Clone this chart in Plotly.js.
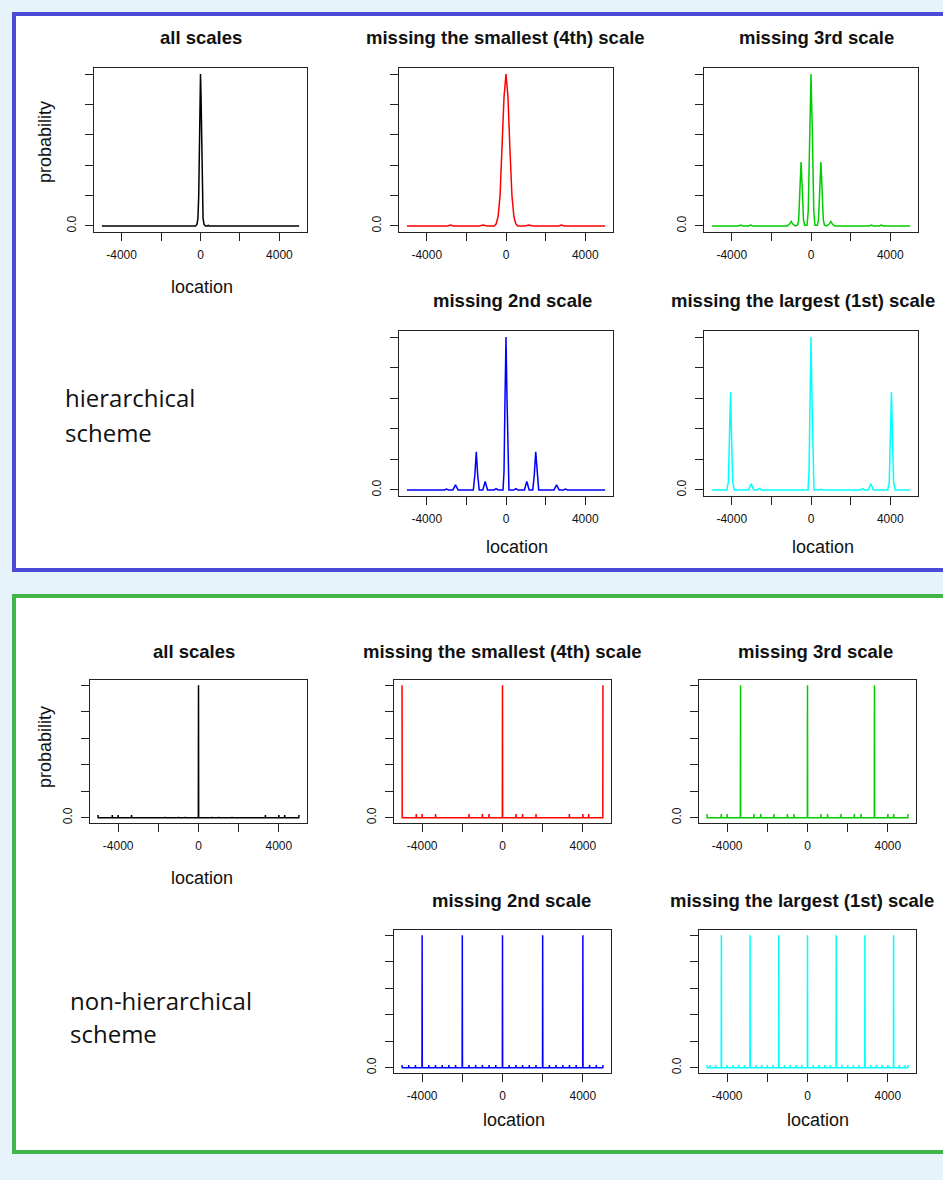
<!DOCTYPE html>
<html>
<head>
<meta charset="utf-8">
<script src="https://cdn.plot.ly/plotly-3.0.1.min.js"></script>
<style>
  html, body { margin: 0; padding: 0; background: #e6f3fa; }
  #chart { width: 943px; height: 1180px; }
</style>
</head>
<body>
<div id="chart"></div>
<script>
// ---------- DATA ----------
// Hierarchical scheme: smooth curves (location, probability normalised to peak = 1)
const hAllX = [-5000, -1000, -450, -400, -350, -250, -180, -130, -90, -50, -25, 0, 25, 50, 90, 130, 180, 250, 350, 400, 450, 1000, 5000];
const hAllY = [0, 0, 0, 0.004, 0, 0, 0.01, 0.05, 0.2, 0.58, 0.87, 1, 0.87, 0.58, 0.2, 0.05, 0.01, 0, 0, 0.004, 0, 0, 0];

const h4X = [-5000, -2950, -2800, -2650, -1350, -1150, -950, -600, -500, -400, -300, -200, -100, 0, 100, 200, 300, 400, 500, 600, 950, 1150, 1350, 2650, 2800, 2950, 5000];
const h4Y = [0, 0, 0.006, 0, 0, 0.006, 0, 0, 0.012, 0.06, 0.2, 0.5, 0.85, 1, 0.85, 0.5, 0.2, 0.06, 0.012, 0, 0, 0.006, 0, 0, 0.006, 0, 0];

const h3X = [-5000, -3650, -3550, -3450, -3150, -3050, -2950, -1200, -1080, -1000, -920, -800, -680, -620, -560, -500, -440, -380, -320, -200, -140, -70, 0,
             70, 140, 200, 320, 380, 440, 500, 560, 620, 680, 800, 920, 1000, 1080, 1200, 2950, 3050, 3150, 3450, 3550, 3650, 5000];
const h3Y = [0, 0, 0.006, 0, 0, 0.006, 0, 0, 0.012, 0.03, 0.012, 0, 0.005, 0.04, 0.24, 0.42, 0.24, 0.04, 0.005, 0.005, 0.1, 0.6, 1,
             0.6, 0.1, 0.005, 0.005, 0.04, 0.24, 0.42, 0.24, 0.04, 0.005, 0, 0.012, 0.03, 0.012, 0, 0, 0.006, 0, 0, 0.006, 0, 0];

const h2X = [-5000, -3100, -3000, -2900, -2680, -2550, -2420, -1650, -1570, -1500, -1430, -1350, -1170, -1050, -930, -600, -500, -400, -150, -100, -50, 0,
             50, 100, 150, 400, 500, 600, 930, 1050, 1170, 1350, 1430, 1500, 1570, 1650, 2420, 2550, 2680, 2900, 3000, 3100, 5000];
const h2Y = [0, 0, 0.005, 0, 0, 0.033, 0, 0, 0.1, 0.25, 0.1, 0, 0, 0.055, 0, 0, 0.008, 0, 0, 0.12, 0.6, 1,
             0.6, 0.12, 0, 0, 0.008, 0, 0, 0.055, 0, 0, 0.1, 0.25, 0.1, 0, 0, 0.033, 0, 0, 0.005, 0, 0];

const h1X = [-5000, -4250, -4170, -4110, -4060, -4010, -3950, -3870, -3150, -3020, -2890, -2700, -2600, -2500, -1150, -1050, -950, -600, -500, -400, -150, -100, -50, 0,
             50, 100, 150, 400, 500, 600, 950, 1050, 1150, 2500, 2600, 2700, 2890, 3020, 3150, 3870, 3950, 4010, 4060, 4110, 4170, 4250, 5000];
const h1Y = [0, 0, 0.05, 0.35, 0.64, 0.35, 0.05, 0, 0, 0.04, 0, 0, 0.01, 0, 0, 0.003, 0, 0, 0.004, 0, 0, 0.12, 0.6, 1,
             0.6, 0.12, 0, 0, 0.004, 0, 0, 0.003, 0, 0, 0.01, 0, 0, 0.04, 0, 0, 0.05, 0.35, 0.64, 0.35, 0.05, 0, 0];

// Non-hierarchical scheme: sharp spikes (location, height)
const nAllPos = [-5000, -4290, -4000, -3330, -1670, -1000, -670, 0, 670, 1000, 1670, 3330, 4000, 4290, 5000];
const nAllH   = [0.02, 0.02, 0.02, 0.02, 0.007, 0.007, 0.007, 1, 0.007, 0.007, 0.007, 0.02, 0.02, 0.02, 0.02];

const n4Pos = [-5000, -4290, -4000, -3330, -1670, -1000, -670, 0, 670, 1000, 1670, 3330, 4000, 4290, 5000];
const n4H   = [1, 0.027, 0.027, 0.027, 0.027, 0.027, 0.027, 1, 0.027, 0.027, 0.027, 0.027, 0.027, 0.027, 1];

const n3Pos = [-5000, -4290, -4000, -3333, -2670, -2330, -1670, -1000, -670, 0, 670, 1000, 1670, 2330, 2670, 3333, 4000, 4290, 5000];
const n3H   = [0.027, 0.027, 0.027, 1, 0.027, 0.027, 0.027, 0.027, 0.027, 1, 0.027, 0.027, 0.027, 0.027, 0.027, 1, 0.027, 0.027, 0.027];

const n2Pos = [-5000, -4667, -4333, -4000, -3667, -3333, -3000, -2667, -2333, -2000, -1667, -1333, -1000, -667, -333, 0,
               333, 667, 1000, 1333, 1667, 2000, 2333, 2667, 3000, 3333, 3667, 4000, 4333, 4667, 5000];
const n2H   = [0.02, 0.02, 0.02, 1, 0.02, 0.02, 0.02, 0.02, 0.02, 1, 0.02, 0.02, 0.02, 0.02, 0.02, 1,
               0.02, 0.02, 0.02, 0.02, 0.02, 1, 0.02, 0.02, 0.02, 0.02, 0.02, 1, 0.02, 0.02, 0.02];

const n1Pos = [-5000, -4857, -4571, -4286, -4000, -3714, -3429, -3143, -2857, -2571, -2286, -2000, -1714, -1429, -1143, -857, -571, -286, 0,
               286, 571, 857, 1143, 1429, 1714, 2000, 2286, 2571, 2857, 3143, 3429, 3714, 4000, 4286, 4571, 4857, 5000];
const n1H   = [0.02, 0.02, 0.02, 1, 0.02, 0.02, 0.02, 0.02, 1, 0.02, 0.02, 0.02, 0.02, 1, 0.02, 0.02, 0.02, 0.02, 1,
               0.02, 0.02, 0.02, 0.02, 1, 0.02, 0.02, 0.02, 0.02, 1, 0.02, 0.02, 0.02, 0.02, 1, 0.02, 0.02, 0.02];

const xTickVals = [-4000, -2000, 0, 2000, 4000];
const xTickText = ['-4000', '', '0', '', '4000'];
const yTickVals = [0, 0.2, 0.4, 0.6, 0.8, 1.0];
const yTickText = ['0.0', '', '', '', '', ''];

// ---------- helpers ----------
const W = 943, H = 1180;
const px = v => v / W;
const py = v => 1 - v / H;

// turn spike positions/heights into a polyline on a zero baseline
function spikes(pos, h) {
  const d = 8, lo = -5000, hi = 5000;
  const xs = [], ys = [];
  if (pos[0] > lo) { xs.push(lo); ys.push(0); }
  for (let i = 0; i < pos.length; i++) {
    const c = pos[i];
    if (c > lo) { xs.push(c - d); ys.push(0); }
    xs.push(c); ys.push(h[i]);
    if (c < hi) { xs.push(c + d); ys.push(0); }
  }
  if (pos[pos.length - 1] < hi) { xs.push(hi); ys.push(0); }
  return [xs, ys];
}

const panels = [
  { f: [94, 307, 68, 232],   d: [hAllX, hAllY], c: '#000000' },
  { f: [399, 613, 68, 232],  d: [h4X, h4Y],     c: '#ff0000' },
  { f: [704, 918, 68, 232],  d: [h3X, h3Y],     c: '#00cd00' },
  { f: [399, 613, 331, 496], d: [h2X, h2Y],     c: '#0000ff' },
  { f: [704, 918, 331, 496], d: [h1X, h1Y],     c: '#00ffff' },
  { f: [90, 307, 680, 823],  d: spikes(nAllPos, nAllH), c: '#000000' },
  { f: [394, 611, 680, 823], d: spikes(n4Pos, n4H),     c: '#ff0000' },
  { f: [699, 916, 680, 823], d: spikes(n3Pos, n3H),     c: '#00cd00' },
  { f: [394, 611, 930, 1073], d: spikes(n2Pos, n2H),    c: '#0000ff' },
  { f: [699, 916, 930, 1073], d: spikes(n1Pos, n1H),    c: '#00ffff' }
];

const tickFont = { family: 'Liberation Sans, Arial, sans-serif', size: 12, color: '#111' };
const data = [];
const layout = {
  width: W, height: H,
  margin: { l: 0, r: 0, t: 0, b: 0, pad: 0 },
  paper_bgcolor: '#e6f3fa',
  plot_bgcolor: 'rgba(0,0,0,0)',
  showlegend: false,
  shapes: [
    { type: 'rect', xref: 'paper', yref: 'paper', layer: 'below',
      x0: px(14), x1: px(975), y0: py(570), y1: py(14),
      fillcolor: '#ffffff', line: { color: '#4a4ad6', width: 4 } },
    { type: 'rect', xref: 'paper', yref: 'paper', layer: 'below',
      x0: px(14), x1: px(975), y0: py(1152), y1: py(596),
      fillcolor: '#ffffff', line: { color: '#3fb54a', width: 4 } }
  ],
  annotations: []
};

panels.forEach((p, i) => {
  const n = i + 1;
  const xa = 'x' + (n === 1 ? '' : n), ya = 'y' + (n === 1 ? '' : n);
  data.push({
    type: 'scatter', mode: 'lines',
    x: p.d[0], y: p.d[1], xaxis: xa, yaxis: ya,
    line: { color: p.c, width: 1.5 }, hoverinfo: 'skip'
  });
  const common = {
    showgrid: false, zeroline: false, showline: true, mirror: true,
    linecolor: '#222', linewidth: 1, ticks: 'outside', ticklen: 8,
    tickwidth: 1, tickcolor: '#222', tickfont: tickFont, fixedrange: true
  };
  layout['xaxis' + (n === 1 ? '' : n)] = Object.assign({}, common, {
    domain: [px(p.f[0]), px(p.f[1])], anchor: ya,
    range: [-5400, 5400], tickmode: 'array', tickvals: xTickVals, ticktext: xTickText,
    ticklabelstandoff: 4
  });
  layout['yaxis' + (n === 1 ? '' : n)] = Object.assign({}, common, {
    domain: [py(p.f[3]), py(p.f[2])], anchor: xa,
    range: [-0.04, 1.04], tickmode: 'array', tickvals: yTickVals, ticktext: yTickText,
    tickangle: -90, ticklabelstandoff: 4
  });
});

function ann(x, y, text, size, opts) {
  layout.annotations.push(Object.assign({
    xref: 'paper', yref: 'paper', x: px(x), y: py(y), text: text,
    showarrow: false, xanchor: 'center', yanchor: 'middle',
    font: { family: 'Liberation Sans, Arial, sans-serif', size: size, color: '#111' }
  }, opts || {}));
}

const titles = [
  [201, 37, 'all scales'], [505, 37, 'missing the smallest (4th) scale'], [816, 37, 'missing 3rd scale'],
  [512, 300, 'missing 2nd scale'], [803, 300, 'missing the largest (1st) scale'],
  [194, 652, 'all scales'], [502, 651, 'missing the smallest (4th) scale'], [815, 651, 'missing 3rd scale'],
  [511, 900, 'missing 2nd scale'], [802, 900, 'missing the largest (1st) scale']
];
titles.forEach(t => ann(t[0], t[1], '<b>' + t[2] + '</b>', 18.5));

[[202, 287], [517, 547], [823, 547], [202, 878], [514, 1120], [818, 1120]]
  .forEach(l => ann(l[0], l[1], 'location', 18));
[[45, 142], [45, 747]].forEach(l => ann(l[0], l[1], 'probability', 18, { textangle: -90 }));

const schemeFont = { family: 'Open Sans, Noto Sans, sans-serif', size: 24, color: '#111' };
ann(63, 397, 'hierarchical', 24, { xanchor: 'left', font: schemeFont });
ann(63, 432, 'scheme', 24, { xanchor: 'left', font: schemeFont });
ann(68, 1000, 'non-hierarchical', 24, { xanchor: 'left', font: schemeFont });
ann(68, 1033, 'scheme', 24, { xanchor: 'left', font: schemeFont });

Plotly.newPlot('chart', data, layout, { staticPlot: true, displayModeBar: false });
</script>
</body>
</html>
